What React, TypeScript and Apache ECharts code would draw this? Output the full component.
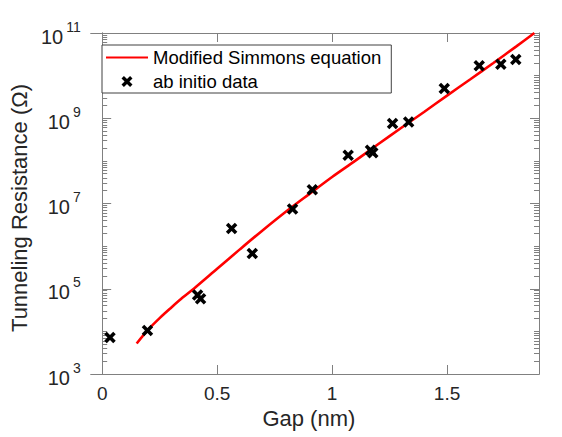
import React, { useEffect, useRef } from 'react';
import * as echarts from 'echarts';

// ab initio data points
const scatterGap = [0.034, 0.197, 0.415, 0.428, 0.563, 0.653, 0.828, 0.914, 1.07, 1.167, 1.177, 1.263, 1.333, 1.488, 1.64, 1.734, 1.799];
const scatterR = [7.2e3, 1.05e4, 7.1e4, 5.8e4, 2.6e6, 6.7e5, 7.4e6, 2.1e7, 1.35e8, 1.78e8, 1.55e8, 7.5e8, 8.2e8, 5.0e9, 1.7e10, 1.85e10, 2.4e10];

// Modified Simmons equation curve
const curveGap = [0.15, 0.2, 0.25, 0.3, 0.35, 0.4, 0.5, 0.6, 0.7, 0.8, 0.9, 1.0, 1.1, 1.2, 1.3, 1.4, 1.5, 1.6, 1.7, 1.8, 1.88];
const curveR = [5.2e3, 1.1e4, 2.05e4, 3.6e4, 6.2e4, 1.02e5, 2.95e5, 8.5e5, 2.4e6, 6.5e6, 1.66e7, 4.2e7, 1.0e8, 2.45e8, 5.9e8, 1.4e9, 3.4e9, 8.1e9, 1.95e10, 4.8e10, 1.0e11];

// ticks
const xTickValues = [0, 0.5, 1, 1.5];
const yLabelExponents = [3, 5, 7, 9, 11];
const yDecades = [3, 4, 5, 6, 7, 8, 9, 10];
const yMultipliers = [1, 2, 3, 4, 5, 6, 7, 8, 9];

const seriesNames = ['Modified Simmons equation', 'ab initio data'];

const FONT = '"Liberation Sans", Arial, Helvetica, sans-serif';
const AXIS_COLOR = '#808080';
const TEXT_COLOR = '#262626';
const X_SYMBOL = 'path://M0,2.2 L2.2,0 L5,2.8 L7.8,0 L10,2.2 L7.2,5 L10,7.8 L7.8,10 L5,7.2 L2.2,10 L0,7.8 L2.8,5 Z';

export default function App() {
  const ref = useRef<HTMLDivElement>(null);

  useEffect(() => {
    document.body.style.margin = '0';
    if (!ref.current) return;
    const chart = echarts.init(ref.current, null, { renderer: 'svg' });

    const minorTicks: number[] = [];
    yDecades.forEach((d) => {
      yMultipliers.forEach((m) => {
        const v = Math.log10(m * Math.pow(10, d));
        if (!yLabelExponents.includes(Math.round(v * 1000) / 1000)) minorTicks.push(v);
      });
    });

    const axisLine = { show: true, lineStyle: { color: AXIS_COLOR, width: 1 } };

    const xCommon = {
      type: 'value' as const,
      min: -0.05,
      max: 1.9,
      splitLine: { show: false },
      axisLine,
    };
    const yCommon = {
      type: 'value' as const,
      min: 3,
      max: 11,
      splitLine: { show: false },
      axisLine,
    };

    chart.setOption({
      animation: false,
      textStyle: { fontFamily: FONT },
      grid: { left: 89, right: 23, top: 33, bottom: 63 },
      legend: {
        orient: 'vertical',
        left: 102,
        top: 45,
        padding: [2, 10, 1, 3],
        itemWidth: 42,
        itemHeight: 11,
        itemGap: 3,
        borderColor: '#404040',
        borderWidth: 1,
        backgroundColor: '#ffffff',
        textStyle: { fontSize: 18.5, color: '#000', fontFamily: FONT, lineHeight: 21 },
        data: [
          { name: seriesNames[0], itemStyle: { opacity: 0 } },
          { name: seriesNames[1], icon: X_SYMBOL },
        ],
      },
      xAxis: [
        {
          ...xCommon,
          position: 'bottom',
          axisTick: { show: true, inside: true, length: 9, customValues: xTickValues, lineStyle: { color: AXIS_COLOR } },
          axisLabel: {
            customValues: xTickValues,
            margin: 10,
            fontSize: 19,
            color: TEXT_COLOR,
            fontFamily: FONT,
            formatter: (v: number) => String(v),
          },
          name: 'Gap (nm)',
          nameLocation: 'middle',
          nameGap: 31,
          nameTextStyle: { fontSize: 22, color: TEXT_COLOR, fontFamily: FONT, padding: [0, 12, 0, 0] },
        },
        {
          ...xCommon,
          position: 'top',
          axisTick: { show: true, inside: true, length: 9, customValues: xTickValues, lineStyle: { color: AXIS_COLOR } },
          axisLabel: { show: false },
        },
      ],
      yAxis: [
        {
          ...yCommon,
          position: 'left',
          axisTick: { show: true, inside: true, length: 9, customValues: yLabelExponents, lineStyle: { color: AXIS_COLOR } },
          axisLabel: {
            customValues: yLabelExponents,
            margin: 10,
            color: TEXT_COLOR,
            fontFamily: FONT,
            formatter: (v: number) => `{b|10}{s|${Math.round(v)}}`,
            rich: {
              b: { fontSize: 20, lineHeight: 20, verticalAlign: 'bottom', color: TEXT_COLOR, fontFamily: FONT },
              s: { fontSize: 14, lineHeight: 27, verticalAlign: 'top', padding: [0, 0, 0, 3], color: TEXT_COLOR, fontFamily: FONT },
            },
          },
          name: 'Tunneling Resistance (Ω)',
          nameLocation: 'middle',
          nameGap: 60,
          nameTextStyle: { fontSize: 22, color: TEXT_COLOR, fontFamily: FONT, padding: [0, 9, 0, 0] },
        },
        {
          ...yCommon,
          position: 'left',
          axisTick: { show: true, inside: true, length: 5, customValues: minorTicks, lineStyle: { color: AXIS_COLOR } },
          axisLabel: { show: false },
        },
        {
          ...yCommon,
          position: 'right',
          axisTick: { show: true, inside: true, length: 9, customValues: yLabelExponents, lineStyle: { color: AXIS_COLOR } },
          axisLabel: { show: false },
        },
        {
          ...yCommon,
          position: 'right',
          axisTick: { show: true, inside: true, length: 5, customValues: minorTicks, lineStyle: { color: AXIS_COLOR } },
          axisLabel: { show: false },
        },
      ],
      series: [
        {
          name: seriesNames[0],
          type: 'line',
          xAxisIndex: 0,
          yAxisIndex: 0,
          symbol: 'none',
          smooth: 0.3,
          color: '#ff0000',
          lineStyle: { color: '#ff0000', width: 2.6 },
          data: curveGap.map((g, i) => [g, Math.log10(curveR[i])]),
          z: 2,
        },
        {
          name: seriesNames[1],
          type: 'scatter',
          xAxisIndex: 0,
          yAxisIndex: 0,
          symbol: X_SYMBOL,
          symbolSize: 11.5,
          symbolKeepAspect: true,
          color: '#000000',
          itemStyle: { color: '#000000', opacity: 1 },
          data: scatterGap.map((g, i) => [g, Math.log10(scatterR[i])]),
          z: 3,
        },
      ],
    });

    return () => chart.dispose();
  }, []);

  return <div ref={ref} style={{ width: 562, height: 437 }} />;
}
